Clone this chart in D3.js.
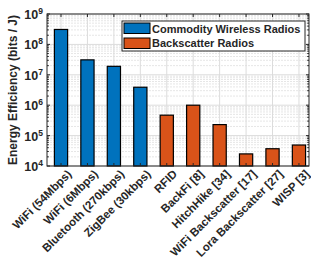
<!DOCTYPE html>
<html><head><meta charset="utf-8">
<script src="https://cdn.jsdelivr.net/npm/d3@7"></script>
<style>body{margin:0;background:#fff}text{font-family:"Liberation Sans",Arial,sans-serif;font-weight:bold;fill:#262626}</style>
</head><body><svg id="c" width="311" height="272"></svg>
<script>
const categories = ["WiFi (54Mbps)","WiFi (6Mbps)","Bluetooth (270kbps)","ZigBee (30kbps)","RFID","BackFi [8]","HitchHike [34]","WiFi Backscatter [17]","Lora Backscatter [27]","WISP [3]"];
const groups = ["Commodity Wireless Radios","Commodity Wireless Radios","Commodity Wireless Radios","Commodity Wireless Radios","Backscatter Radios","Backscatter Radios","Backscatter Radios","Backscatter Radios","Backscatter Radios","Backscatter Radios"];
const values = [3.1e8, 3.1e7, 1.9e7, 3.9e6, 4.7e5, 1.0e6, 2.3e5, 2.5e4, 3.7e4, 4.9e4];
const legendLabels = ["Commodity Wireless Radios","Backscatter Radios"];
const colors = ["#0072BD","#D95319"];
const yTickExps = [4,5,6,7,8,9];
const yLabel = "Energy Efficiency (bits / J)";

const svg = d3.select("#c");
const L=47, R=309, T=14, B=166;
const x = d3.scaleLinear().domain([0.47,10.38]).range([L,R]);
const y = d3.scaleLog().domain([1e4,1e9]).range([B,T]);
const color = d3.scaleOrdinal().domain(legendLabels).range(colors);
const step = x(2)-x(1), bw = step*0.5;

// grid
const g = svg.append("g");
const minors=[];
for(let e=4;e<9;e++) for(let k=2;k<10;k++) minors.push(k*Math.pow(10,e));
g.selectAll(".mn").data(minors).enter().append("line")
 .attr("x1",L).attr("x2",R).attr("y1",d=>y(d)).attr("y2",d=>y(d))
 .attr("stroke","#e6e6e6").attr("stroke-width",1).attr("stroke-dasharray","2,1");
g.selectAll(".mj").data(yTickExps).enter().append("line")
 .attr("x1",L).attr("x2",R).attr("y1",d=>y(Math.pow(10,d))).attr("y2",d=>y(Math.pow(10,d)))
 .attr("stroke","#dcdcdc").attr("stroke-width",1);
g.selectAll(".vg").data(categories).enter().append("line")
 .attr("x1",(d,i)=>x(i+1)).attr("x2",(d,i)=>x(i+1)).attr("y1",T).attr("y2",B)
 .attr("stroke","#dcdcdc").attr("stroke-width",1);

// bars
svg.selectAll(".bar").data(values).enter().append("rect")
 .attr("x",(d,i)=>x(i+1)-bw/2).attr("width",bw)
 .attr("y",d=>y(d)).attr("height",d=>B-y(d))
 .attr("fill",(d,i)=>color(groups[i])).attr("stroke","#000").attr("stroke-width",1.2);

// box
svg.append("rect").attr("x",L).attr("y",T).attr("width",R-L).attr("height",B-T)
 .attr("fill","none").attr("stroke","#262626").attr("stroke-width",1);

// ticks
const tk = svg.append("g").attr("stroke","#262626").attr("stroke-width",1);
yTickExps.forEach(e=>{const yy=y(Math.pow(10,e));
 tk.append("line").attr("x1",L).attr("x2",L+3).attr("y1",yy).attr("y2",yy);
 tk.append("line").attr("x1",R).attr("x2",R-3).attr("y1",yy).attr("y2",yy);});
minors.forEach(v=>{const yy=y(v);
 tk.append("line").attr("x1",L).attr("x2",L+1.8).attr("y1",yy).attr("y2",yy);
 tk.append("line").attr("x1",R).attr("x2",R-1.8).attr("y1",yy).attr("y2",yy);});
categories.forEach((c,i)=>{const xx=x(i+1);
 tk.append("line").attr("x1",xx).attr("x2",xx).attr("y1",T).attr("y2",T+3);
 tk.append("line").attr("x1",xx).attr("x2",xx).attr("y1",B).attr("y2",B-3);});

// y tick labels
yTickExps.forEach(e=>{
 const t=svg.append("text").attr("x",L-4).attr("y",y(Math.pow(10,e))+5).attr("text-anchor","end").style("font-size","12.5px");
 t.append("tspan").text("10");
 t.append("tspan").attr("dy",-5).style("font-size","8.5px").text(e);
});

// x labels
svg.selectAll(".xl").data(categories).enter().append("text")
 .attr("transform",(d,i)=>`translate(${x(i+1)+5.5},${B+3}) rotate(-45)`)
 .attr("text-anchor","end").attr("dy","0.7em").style("font-size","11.5px").text(d=>d);

// y label
svg.append("text").attr("transform",`translate(17,${(T+B)/2}) rotate(-90)`)
 .attr("text-anchor","middle").style("font-size","12px").text(yLabel);

// legend
const lg = svg.append("g");
lg.append("rect").attr("x",122).attr("y",21).attr("width",183).attr("height",30)
 .attr("fill","#fff").attr("stroke","#262626").attr("stroke-width",1);
legendLabels.forEach((l,i)=>{
 lg.append("rect").attr("x",124).attr("y",23+i*15).attr("width",26).attr("height",10.5)
  .attr("fill",color(l)).attr("stroke","#000").attr("stroke-width",1);
 lg.append("text").attr("x",152).attr("y",32.5+i*14.5).style("font-size","11px").attr("fill","#000").text(l);
});
</script></body></html>
